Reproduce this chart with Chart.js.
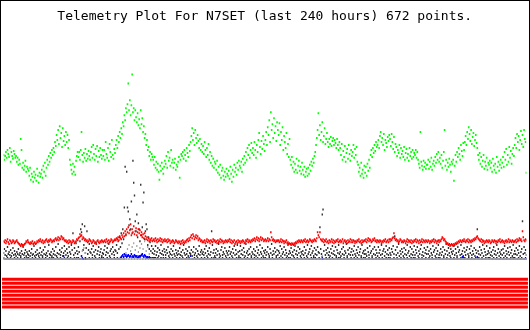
<!DOCTYPE html>
<html>
<head>
<meta charset="utf-8">
<script src="https://cdn.jsdelivr.net/npm/chart.js@4.4.0/dist/chart.umd.min.js"></script>
<style>
html, body { margin: 0; padding: 0; background: #fff; }
#box { width: 530px; height: 330px; box-sizing: border-box; border: 1px solid #000; }
#box canvas { display: block; }
</style>
</head>
<body>
<div id="box"><canvas id="telemetryChart" width="528" height="328"></canvas></div>
<script>
// telemetry samples, one value per reading (672 readings over 240 hours)
var greenValues = [
  105,100,104,108,102,110,106,103,112,98,108,104,101,109,106,102,
  104,98,102,95,100,96,121,110,92,97,90,94,99,88,93,91,
  89,84,92,80,86,83,78,88,82,85,79,91,84,77,87,83,
  86,90,82,94,88,97,84,92,100,95,104,98,107,102,110,105,
  112,108,118,114,125,120,130,116,134,122,127,113,132,119,124,115,
  128,118,125,112,120,100,95,90,86,96,88,93,85,99,104,108,
  103,108,100,110,128,105,98,107,102,111,99,106,101,109,104,100,
  108,113,102,115,106,100,111,104,114,98,109,103,112,105,101,110,
  104,110,100,118,106,102,112,99,116,108,103,120,105,101,111,107,
  115,120,112,124,118,128,122,132,126,138,134,145,140,152,148,156,
  177,150,160,145,155,186,148,152,140,150,143,138,147,135,141,132,
  150,136,142,128,134,122,126,115,120,110,113,104,108,100,106,103,
  100,95,103,92,98,90,96,88,80,94,89,97,91,86,93,99,
  96,104,92,108,99,102,94,110,97,100,92,97,101,90,95,93,
  98,103,82,100,106,104,108,101,110,105,99,112,107,103,115,109,
  118,124,132,120,127,115,130,122,117,125,119,112,121,110,116,108,
  114,106,118,110,103,112,105,116,100,108,97,104,94,101,92,98,
  96,90,99,87,93,85,95,82,89,92,84,80,88,83,91,86,
  84,89,81,93,86,78,90,83,95,88,92,85,97,90,99,94,
  92,98,88,101,95,104,97,108,100,112,105,115,102,110,117,107,
  112,105,118,110,102,115,108,120,127,113,106,119,111,124,116,109,
  120,128,115,133,125,140,118,148,130,136,122,142,127,134,119,138,
  130,125,137,115,128,120,133,110,124,118,112,127,106,116,103,121,
  100,95,103,92,98,88,96,90,101,87,94,99,89,93,86,97,
  90,85,93,83,88,91,84,92,86,95,89,98,94,101,97,104,
  108,115,122,130,147,125,135,120,128,138,118,124,132,116,121,127,
  118,113,121,116,123,114,119,122,115,120,117,112,121,115,110,118,
  112,105,116,100,109,103,114,98,107,111,101,115,106,99,110,104,
  108,115,102,111,105,113,98,95,88,92,84,97,86,90,82,94,
  87,93,84,96,89,100,92,105,110,103,112,107,115,109,118,113,
  115,120,112,124,128,118,122,115,126,110,120,117,113,123,119,125,
  121,114,126,118,111,123,108,116,113,104,110,107,115,102,112,106,
  109,103,113,100,107,111,102,106,99,112,104,108,101,110,103,107,
  105,110,102,108,100,96,92,128,98,94,90,99,93,97,91,95,
  95,100,91,98,93,102,90,96,99,94,103,97,106,100,108,98,
  102,96,105,92,99,108,130,94,100,90,97,93,101,95,88,98,
  96,100,79,94,105,98,108,103,112,106,100,115,109,104,117,110,
  118,124,115,128,121,133,126,119,130,116,123,127,114,120,125,117,
  112,105,100,107,96,103,93,99,105,91,98,94,102,90,97,95,
  99,92,97,88,101,94,90,96,87,103,93,98,89,95,100,92,
  97,103,93,108,100,111,95,105,98,113,102,109,96,106,112,104,
  115,122,112,126,118,124,110,120,129,116,125,113,130,121,118,87
];

var redValues = [
  18,17,19,16,18,20,17,15,19,18,16,17,19,18,16,17,
  18,19,17,16,15,14,13,15,14,13,14,15,16,18,17,19,
  17,16,15,17,16,18,15,16,17,15,16,18,17,19,18,20,
  18,17,19,16,18,17,19,20,18,17,19,18,20,19,17,18,
  19,18,20,21,19,20,22,19,21,20,23,22,20,21,19,18,
  19,17,18,16,19,17,18,16,17,19,18,16,17,18,20,19,
  21,22,25,23,24,20,22,21,19,20,18,19,17,18,20,19,
  18,16,17,19,18,16,17,15,18,19,17,16,18,17,19,18,
  17,18,19,17,20,18,16,19,17,18,20,19,17,18,19,20,
  19,21,20,22,19,23,21,20,24,22,26,23,28,25,30,27,
  32,26,29,35,24,30,27,33,25,28,31,24,27,30,26,29,
  24,27,22,25,21,26,23,20,22,19,21,18,20,19,21,18,
  19,20,18,21,19,17,20,18,19,21,18,20,17,19,18,20,
  18,19,17,20,18,19,16,18,17,19,18,16,17,19,18,17,
  16,18,17,15,18,16,19,17,16,18,17,19,20,18,21,19,
  22,24,21,25,23,20,22,24,21,23,19,21,20,18,19,17,
  18,17,19,16,18,20,17,19,18,16,19,18,17,20,18,19,
  17,18,16,19,17,18,20,17,19,18,16,18,17,19,18,17,
  19,18,20,17,19,16,18,17,19,15,17,18,16,19,17,18,
  16,18,17,19,18,16,17,19,18,20,17,19,18,17,19,18,
  20,19,21,18,20,22,19,21,18,20,22,19,21,20,18,19,
  20,18,19,21,18,20,19,27,22,19,20,18,19,17,18,19,
  18,19,17,18,20,17,19,18,16,18,17,19,16,17,15,16,
  15,14,16,15,14,16,15,17,16,18,17,19,18,17,19,18,
  17,19,18,20,17,18,19,17,18,20,19,18,17,19,18,20,
  19,18,21,27,24,22,27,20,19,18,20,17,19,18,20,17,
  18,16,19,17,18,20,17,19,16,18,17,19,18,20,17,18,
  19,17,18,20,16,18,19,17,18,16,19,17,18,20,17,19,
  17,19,18,16,18,17,19,18,20,17,18,16,19,17,18,19,
  18,20,17,19,21,18,20,19,17,18,20,19,21,18,19,17,
  19,18,17,19,18,16,18,17,19,18,20,17,18,19,17,20,
  18,20,19,21,22,26,21,19,20,18,19,17,18,20,19,17,
  18,17,19,18,16,18,20,17,19,18,17,19,16,18,17,19,
  18,20,17,19,18,16,19,17,18,20,17,19,18,17,19,18,
  17,19,18,16,18,17,19,18,20,17,19,18,16,18,19,17,
  19,18,20,22,21,19,20,18,17,15,16,14,15,13,14,15,
  14,13,15,14,16,15,17,16,18,17,19,18,17,19,18,20,
  18,17,19,18,20,17,19,18,17,19,18,20,19,21,20,22,
  23,21,20,19,18,20,17,19,18,16,18,17,19,18,17,19,
  18,16,17,19,18,17,19,18,16,18,17,19,18,20,17,18,
  19,17,18,16,18,19,17,18,20,17,19,18,17,19,18,17,
  18,19,17,20,18,19,21,19,20,18,28,22,19,18,20,19
];

var darkValues = [
  6,10,4,8,3,12,5,7,4,9,3,6,11,4,8,5,
  3,7,5,10,4,6,3,8,5,12,4,6,9,3,7,5,
  4,8,3,6,10,4,5,13,3,7,4,9,5,3,6,11,
  4,7,3,9,5,12,4,6,3,8,14,5,4,7,3,10,
  5,8,4,12,3,6,15,5,9,4,7,11,3,6,13,8,
  4,10,6,3,12,7,5,14,9,26,4,11,6,16,8,5,
  12,7,18,30,27,35,9,14,33,6,11,28,5,9,15,7,
  6,10,4,13,7,3,9,16,5,8,12,4,7,10,3,6,
  5,9,13,4,7,11,6,15,3,8,10,5,12,7,4,9,
  8,14,6,18,10,22,12,26,16,30,20,52,93,24,88,52,
  48,34,40,30,58,26,99,77,64,38,28,45,22,36,30,18,
  75,24,32,57,67,20,28,35,30,14,22,10,17,8,13,6,
  10,5,8,13,4,7,11,3,9,6,14,5,8,4,10,7,
  4,9,6,12,3,7,5,10,4,8,13,5,3,9,6,4,
  8,5,11,4,7,3,9,14,6,4,10,5,8,3,12,6,
  5,9,3,7,12,4,6,10,3,8,5,13,4,7,9,5,
  7,4,10,6,13,3,8,5,11,4,7,28,14,6,9,3,
  6,10,4,8,15,5,3,9,12,4,7,5,11,3,8,6,
  4,8,12,5,7,3,10,6,13,4,9,5,14,7,3,8,
  13,5,9,4,11,7,3,15,6,8,4,10,5,12,3,7,
  5,10,4,8,3,12,6,9,4,14,7,5,11,3,8,6,
  9,4,7,12,5,3,10,6,15,4,8,5,11,7,3,9,
  4,8,6,13,3,10,5,7,12,4,9,6,3,14,5,8,
  6,11,4,7,3,9,13,5,8,4,12,6,10,3,7,5,
  8,4,12,6,9,3,14,5,7,10,4,13,6,8,3,11,
  5,9,4,12,7,6,32,10,5,45,50,8,14,4,9,6,
  11,4,7,3,10,6,13,5,8,4,12,3,9,6,14,5,
  7,3,10,5,12,4,8,6,15,3,9,5,11,4,7,10,
  4,8,13,5,3,9,6,12,4,7,10,3,14,6,8,5,
  9,5,3,11,7,4,13,6,8,3,10,5,12,4,9,6,
  3,12,6,9,4,14,5,8,10,3,7,13,5,9,4,11,
  6,4,10,7,13,5,23,9,4,12,6,15,3,8,5,10,
  7,3,11,5,9,4,14,6,8,3,12,5,10,4,7,13,
  4,9,6,12,3,8,5,10,14,4,7,3,11,6,9,5,
  12,5,8,3,10,6,4,13,7,9,3,11,5,8,14,4,
  6,10,4,7,12,3,9,5,15,8,4,11,6,3,10,7,
  5,8,13,4,10,6,3,12,7,9,4,14,5,8,3,11,
  7,4,9,12,5,3,10,6,13,4,8,5,11,3,9,6,
  30,8,5,12,4,9,6,14,3,10,7,4,13,5,8,6,
  11,4,7,3,9,12,5,8,4,14,6,10,3,7,5,9,
  4,10,6,13,3,8,5,11,7,4,12,6,9,3,14,5,
  8,5,11,4,9,6,13,3,7,10,38,5,12,6,9,4
];

var blueValues = [
  1,0,0,0,0,1,0,0,0,1,0,0,0,0,1,0,
  0,0,1,0,0,0,1,0,0,0,0,1,0,0,1,0,
  1,0,0,0,0,1,0,0,0,1,0,0,0,0,1,0,
  0,0,1,0,0,0,1,0,0,0,0,1,0,0,1,0,
  1,0,0,0,0,1,0,0,0,1,0,0,0,3,1,0,
  0,0,1,0,0,0,1,0,0,0,0,1,0,0,1,0,
  1,0,0,0,3,1,0,0,0,1,0,0,0,0,1,0,
  0,0,1,0,0,0,1,0,0,0,0,1,0,0,1,0,
  1,0,0,0,0,1,0,0,0,1,0,0,0,0,1,0,
  0,0,1,0,0,0,1,2,3,4,2,5,3,4,2,3,
  4,3,2,3,5,2,3,2,4,3,2,3,1,2,3,2,
  3,4,5,3,2,4,3,2,1,2,1,2,1,1,0,1,
  1,0,1,1,0,0,1,0,0,0,1,0,0,1,0,0,
  1,0,0,0,0,1,0,0,0,1,0,0,0,0,1,0,
  0,0,1,0,0,0,1,0,0,0,0,1,0,0,1,0,
  3,0,0,0,0,1,0,0,0,1,0,0,0,0,1,0,
  0,0,1,0,0,0,1,0,0,0,0,1,0,0,1,0,
  1,0,0,0,0,1,0,0,0,1,0,0,0,0,1,0,
  0,0,1,0,0,0,1,0,0,0,0,1,0,0,1,0,
  1,0,0,0,0,1,0,0,0,1,0,0,0,0,1,0,
  0,0,1,0,0,0,1,0,0,0,0,1,0,0,1,0,
  1,0,0,0,0,1,0,0,0,1,0,0,0,0,1,0,
  0,0,1,0,0,0,1,0,0,0,0,1,0,0,1,0,
  1,0,0,0,0,1,0,0,0,1,0,0,0,0,1,0,
  0,0,1,0,0,0,1,0,0,0,0,1,0,0,1,0,
  1,0,0,0,0,1,0,0,0,2,0,0,0,0,1,0,
  0,0,1,0,0,0,1,0,0,0,0,1,0,0,1,0,
  1,0,0,0,0,1,0,0,0,1,0,0,0,0,1,0,
  0,0,1,0,0,0,1,0,0,0,0,1,0,0,1,0,
  1,0,0,0,0,1,0,0,0,1,0,0,0,0,1,0,
  0,0,1,0,0,0,1,0,0,0,0,1,0,0,1,0,
  1,0,0,0,0,1,0,0,0,1,0,0,0,0,1,0,
  0,0,1,0,0,0,1,0,0,0,0,1,0,0,1,0,
  1,0,0,0,0,1,0,0,0,1,0,0,0,0,1,0,
  0,0,1,0,0,0,1,0,0,0,0,1,0,0,1,0,
  1,0,0,0,0,1,0,0,0,1,0,0,0,0,1,0,
  0,0,1,0,0,0,1,0,0,0,0,1,0,2,1,0,
  1,0,0,0,0,1,0,0,0,1,0,0,0,0,1,0,
  2,0,1,0,0,0,1,0,0,0,0,1,0,0,1,0,
  1,0,0,0,0,1,0,0,0,1,0,0,0,0,1,0,
  0,0,1,0,0,0,1,0,0,0,0,1,0,0,1,0,
  1,0,0,0,0,1,0,0,0,1,0,0,0,0,1,0
];

var greyValues = [
  0,0,0,0,0,0,0,0,0,0,0,0,0,0,0,0,
  0,0,0,0,0,0,0,0,0,0,0,0,0,0,0,0,
  0,0,0,0,0,0,0,0,0,0,0,0,0,0,0,0,
  0,0,0,0,0,0,0,0,0,0,0,0,0,0,0,0,
  0,0,0,0,0,0,0,0,0,0,0,0,0,0,0,0,
  0,0,0,0,0,0,0,0,0,0,0,0,0,0,0,0,
  0,0,0,0,0,8,0,11,0,6,0,0,0,0,0,0,
  0,0,0,0,0,0,0,0,0,0,0,0,0,0,0,0,
  0,0,0,0,0,0,0,0,0,0,0,0,0,0,0,0,
  0,0,0,0,0,0,0,0,0,0,0,0,0,6,0,10,
  0,14,0,8,0,12,0,16,0,9,0,13,0,7,0,11,
  0,15,0,10,0,18,0,8,0,12,0,5,0,0,0,0,
  0,0,0,0,0,0,0,0,0,0,0,0,0,0,0,0,
  0,0,0,0,0,0,0,0,0,0,0,0,0,0,0,0,
  0,0,0,0,0,0,0,0,0,0,0,0,0,0,0,0,
  0,0,0,0,0,0,0,0,0,0,0,0,0,0,0,0,
  0,0,0,0,0,0,0,0,0,0,0,0,0,0,0,0,
  0,0,0,0,0,0,0,0,0,0,0,0,0,0,0,0,
  0,0,0,0,0,0,0,0,0,0,0,0,0,0,0,0,
  0,0,0,0,0,0,0,0,0,0,0,0,0,0,0,0,
  0,0,0,0,0,0,0,0,0,0,0,0,0,0,0,0,
  0,0,0,0,0,0,0,0,0,0,0,0,0,0,0,0,
  0,0,0,0,0,0,0,0,0,0,0,0,0,0,0,0,
  0,0,0,0,0,0,0,0,0,0,0,0,0,0,0,0,
  0,0,0,0,0,0,0,0,0,0,0,0,0,0,0,0,
  0,0,0,0,0,0,0,0,0,3,0,0,0,0,0,0,
  0,0,0,0,0,0,0,0,0,0,0,0,0,0,0,0,
  0,0,0,0,0,0,0,0,0,0,0,0,0,0,0,0,
  0,0,0,0,0,0,0,0,0,0,0,0,0,0,0,0,
  0,0,0,0,0,0,0,0,0,0,0,0,0,0,0,0,
  0,0,0,0,0,0,0,0,0,0,0,0,0,0,0,0,
  0,0,0,0,0,0,0,0,0,0,0,0,0,0,0,0,
  0,0,0,0,0,0,0,0,0,0,0,0,0,0,0,0,
  0,0,0,0,0,0,0,0,0,0,0,0,0,0,0,0,
  0,0,0,0,0,0,0,0,0,0,0,0,0,0,0,0,
  0,0,0,0,0,0,0,0,0,0,0,0,0,0,0,0,
  0,0,0,0,0,0,0,0,0,0,0,0,0,0,0,0,
  0,0,0,0,0,0,0,0,0,0,0,0,0,0,0,0,
  0,0,0,0,0,0,0,0,0,0,0,0,0,0,0,0,
  0,0,0,0,0,0,0,0,0,0,0,0,0,0,0,0,
  0,0,0,0,0,0,0,0,0,0,0,0,0,0,0,0,
  0,0,0,0,0,0,0,0,0,0,0,0,0,0,0,0
];

// status channels shown as the red bars under the plot
var statusLevels = [-20.5, -24.5, -28.5, -32.5, -36.5, -40.5, -44.5, -48.5];

var lastIndex = greenValues.length - 1;

function points(values) {
    return values.map(function (v, i) { return { x: i, y: v }; });
}

function dots(label, values, color, order, width) {
    return {
        label: label,
        data: points(values),
        order: order,
        showLine: false,
        pointStyle: 'line',
        pointRotation: 90,
        pointRadius: 1,
        pointHoverRadius: 1,
        pointBorderWidth: width,
        pointBorderColor: color,
        pointBackgroundColor: color,
        borderColor: color
    };
}

var datasets = [
    dots("grey", greyValues, "#a0a0a0", 0, 1.2),
    dots("blue", blueValues, "#0000ff", 1, 1.5),
    dots("red", redValues, "#ff0000", 2, 1.5),
    dots("black", darkValues, "#333333", 3, 1.4),
    dots("green", greenValues, "#00ff00", 4, 1.6)
];

statusLevels.forEach(function (level, k) {
    datasets.push({
        label: "status " + (k + 1),
        data: [{ x: -2, y: level }, { x: lastIndex + 2, y: level }],
        order: 5,
        showLine: true,
        clip: false,
        borderColor: "#ff0000",
        borderWidth: 3,
        pointRadius: 0
    });
});

var ctx = document.getElementById("telemetryChart");
var myChart = new Chart(ctx, {
    type: 'scatter',
    data: { datasets: datasets },
    options: {
        responsive: false,
        animation: false,
        events: [],
        layout: { padding: { left: 0.5, right: 1, top: 0, bottom: 0 } },
        plugins: {
            legend: { display: false },
            tooltip: { enabled: false },
            title: {
                display: true,
                text: "Telemetry Plot For N7SET (last 240 hours) 672 points.",
                color: "#000",
                font: { family: "'DejaVu Sans Mono', monospace", size: 13, weight: 'normal', lineHeight: 1.2 },
                padding: { top: 8, bottom: 4 }
            }
        },
        scales: {
            x: { type: 'linear', display: false, min: 0, max: lastIndex },
            y: { display: false, min: -68, max: 232.4 }
        }
    }
});
</script>
</body>
</html>
